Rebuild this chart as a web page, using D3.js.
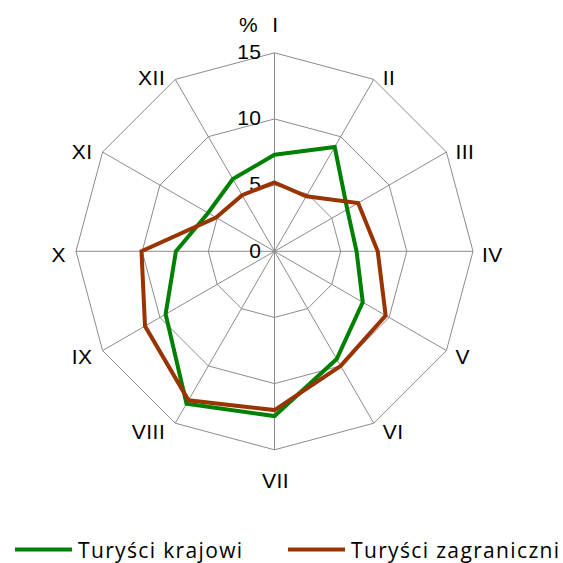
<!DOCTYPE html>
<html>
<head>
<meta charset="utf-8">
<script src="https://cdn.jsdelivr.net/npm/d3@7"></script>
<style>
  html, body { margin: 0; padding: 0; background: #fff; }
  svg { display: block; }
  .lbl { font-family: "Liberation Sans", Arial, sans-serif; font-size: 21px; fill: #000; letter-spacing: 0.5px; }
  .leg { font-family: "Open Sans", sans-serif; font-size: 21px; fill: #000; letter-spacing: 1.35px; }
</style>
</head>
<body>
<div id="chart"></div>
<script>
var months = ["I", "II", "III", "IV", "V", "VI", "VII", "VIII", "IX", "X", "XI", "XII"];
var krajowi = [7.3, 9.1, 6.35, 6.2, 7.7, 9.4, 12.45, 13.3, 9.5, 7.45, 5.8, 6.3];
var zagraniczni = [5.2, 4.8, 7.3, 7.8, 9.7, 10.0, 12.0, 13.0, 11.3, 10.05, 5.1, 4.9];
var ticks = [0, 5, 10, 15];
var seriesNames = ["Turyści krajowi", "Turyści zagraniczni"];
var seriesColors = ["#008000", "#993300"];

var width = 563, height = 563;
var cx = 274.5, cy = 251.3, R = 198.5;

var svg = d3.select("#chart").append("svg")
    .attr("width", width)
    .attr("height", height);

var g = svg.append("g")
    .attr("transform", "translate(" + cx + "," + cy + ")");

var r = d3.scaleLinear().domain([0, 15]).range([0, R]);
var angle = d3.scalePoint().domain(months).range([0, 2 * Math.PI * 11 / 12]);

function px(m, v) { return Math.sin(angle(m)) * r(v); }
function py(m, v) { return -Math.cos(angle(m)) * r(v); }

// grid polygons
ticks.filter(function (t) { return t > 0; }).forEach(function (t) {
    g.append("path")
        .attr("d", d3.lineRadial()
            .angle(function (m) { return angle(m); })
            .radius(r(t))
            .curve(d3.curveLinearClosed)(months))
        .attr("fill", "none")
        .attr("stroke", "#8c8c8c")
        .attr("stroke-width", 1);
});

// spokes
g.selectAll(".spoke")
    .data(months)
    .enter().append("line")
    .attr("class", "spoke")
    .attr("x1", 0).attr("y1", 0)
    .attr("x2", function (m) { return px(m, 15); })
    .attr("y2", function (m) { return py(m, 15); })
    .attr("stroke", "#8c8c8c")
    .attr("stroke-width", 1);

// tick labels
g.selectAll(".tick")
    .data(ticks)
    .enter().append("text")
    .attr("class", "lbl")
    .attr("x", -13)
    .attr("y", function (t) { return -r(t) - 1; })
    .attr("dy", "0.35em")
    .attr("text-anchor", "end")
    .text(function (t) { return t; });

g.append("text")
    .attr("class", "lbl")
    .attr("x", -26)
    .attr("y", -r(15) - 28)
    .attr("dy", "0.35em")
    .attr("text-anchor", "middle")
    .text("%");

// category labels
g.selectAll(".cat")
    .data(months)
    .enter().append("text")
    .attr("class", "lbl")
    .attr("x", function (m) {
        var s = Math.sin(angle(m));
        if (Math.abs(s) < 0.01) return px(m, 15) + 1;
        return px(m, 15) + (s > 0 ? 9 : -10);
    })
    .attr("y", function (m) {
        var c = Math.cos(angle(m));
        if (c > 0.99) return py(m, 15) - 28;
        if (c < -0.99) return py(m, 15) + 31;
        return py(m, 15) + 3 - 6 * c;
    })
    .attr("dy", "0.35em")
    .attr("text-anchor", function (m) {
        var s = Math.sin(angle(m));
        if (Math.abs(s) < 0.01) return "middle";
        return s > 0 ? "start" : "end";
    })
    .text(function (m) { return m; });

// series
var line = d3.lineRadial()
    .angle(function (d, i) { return angle(months[i]); })
    .radius(function (d) { return r(d); })
    .curve(d3.curveLinearClosed);

[krajowi, zagraniczni].forEach(function (s, i) {
    g.append("path")
        .attr("d", line(s))
        .attr("fill", "none")
        .attr("stroke", seriesColors[i])
        .attr("stroke-width", 4)
        .attr("stroke-linejoin", "miter");
});

// legend
var legX = [15, 288];
seriesNames.forEach(function (name, i) {
    var lg = svg.append("g").attr("transform", "translate(" + legX[i] + ",549.5)");
    lg.append("line")
        .attr("x1", 0).attr("x2", 57)
        .attr("y1", 0).attr("y2", 0)
        .attr("stroke", seriesColors[i])
        .attr("stroke-width", 4);
    lg.append("text")
        .attr("class", "leg")
        .attr("x", 63)
        .attr("y", 1)
        .attr("dy", "0.35em")
        .text(name);
});
</script>
</body>
</html>
